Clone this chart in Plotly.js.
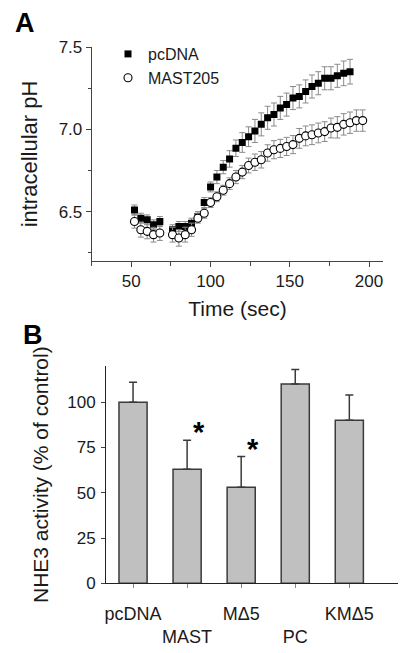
<!DOCTYPE html>
<html><head><meta charset="utf-8">
<script src="https://cdn.plot.ly/plotly-3.0.1.min.js"></script>
<style>html,body{margin:0;padding:0;background:#fff}#chart{width:400px;height:653px}</style>
</head><body><div id="chart"></div>
<script>
// Panel A data
const timePc = [52,56,60,64,68,76,80,84,88,92,96,100,104,108,112,116,120,124,128,132,136,140,144,148,152,156,160,164,168,172,176,180,184,188];
const phPc = [6.51,6.46,6.45,6.42,6.44,6.39,6.41,6.41,6.43,6.47,6.555,6.65,6.71,6.77,6.82,6.885,6.92,6.955,6.99,7.03,7.07,7.09,7.13,7.15,7.19,7.20,7.23,7.26,7.28,7.31,7.31,7.325,7.34,7.35];
const errPc = [0.03,0.03,0.03,0.03,0.03,0.03,0.03,0.03,0.03,0.03,0.03,0.03,0.04,0.04,0.05,0.05,0.06,0.06,0.07,0.07,0.07,0.07,0.07,0.07,0.07,0.07,0.07,0.07,0.07,0.07,0.07,0.07,0.075,0.075];
const timeMast = [52,56,60,64,68,76,80,84,88,92,96,100,104,108,112,116,120,124,128,132,136,140,144,148,152,156,160,164,168,172,176,180,184,188,192,196];
const phMast = [6.44,6.39,6.38,6.36,6.37,6.36,6.34,6.36,6.39,6.46,6.49,6.555,6.59,6.63,6.67,6.71,6.74,6.78,6.80,6.815,6.856,6.876,6.884,6.896,6.907,6.945,6.96,6.967,6.978,6.986,7.008,7.012,7.03,7.04,7.053,7.053];
const errMast = [0.04,0.045,0.045,0.045,0.045,0.045,0.05,0.045,0.04,0.03,0.03,0.03,0.03,0.03,0.035,0.04,0.04,0.045,0.05,0.05,0.05,0.055,0.055,0.055,0.055,0.06,0.06,0.06,0.06,0.06,0.06,0.065,0.065,0.065,0.065,0.065];
const seriesNames = ['pcDNA','MAST205'];
const xTicksA = [50,100,150,200];
const yTicksA = [6.5,7.0,7.5];

// Panel B data
const groups = ['pcDNA','MAST','M\u03945','PC','KM\u03945'];
const groupLabels = ['pcDNA','<br>MAST','M\u03945','<br>PC','KM\u03945'];
const activity = [100,63,53,110,90];
const activityErr = [11,16,17,8,14];
const significant = [false,true,true,false,false];
const yTicksB = [0,25,50,75,100];

const FONT = 'Liberation Sans, Arial, sans-serif';
const INK = '#1a1a1a';
const idx = groups.map((g,i)=>i);

const traces = [
  {x: timePc, y: phPc, name: seriesNames[0], type:'scatter', mode:'markers', xaxis:'x', yaxis:'y',
   marker:{symbol:'square', size:7, color:'#000'},
   error_y:{type:'data', array: errPc, color:'#8a8a8a', thickness:1, width:3}},
  {x: timeMast, y: phMast, name: seriesNames[1], type:'scatter', mode:'markers', xaxis:'x', yaxis:'y',
   marker:{symbol:'circle', size:8, color:'#fff', line:{color:'#000', width:1.1}},
   error_y:{type:'data', array: errMast, color:'#8a8a8a', thickness:1, width:3}},
  {x: idx, y: activity, type:'bar', xaxis:'x2', yaxis:'y2', showlegend:false, width:0.52,
   marker:{color:'#c0c0c0', line:{color:'#3a3a3a', width:1.5}},
   error_y:{type:'data', symmetric:false, array: activityErr, arrayminus: activity.map(()=>0), color:'#3a3a3a', thickness:1.5, width:4}}
];

const annotations = [
  {text:'<b>A</b>', xref:'paper', yref:'paper', x:25/400, y:1-23/653, xanchor:'center', yanchor:'middle', showarrow:false, font:{family:FONT, size:27, color:'#000'}},
  {text:'<b>B</b>', xref:'paper', yref:'paper', x:33/400, y:1-335/653, xanchor:'center', yanchor:'middle', showarrow:false, font:{family:FONT, size:27, color:'#000'}}
];
idx.forEach(i=>{
  if(significant[i]) annotations.push({text:'<b>*</b>', xref:'x2', yref:'y2', x:i, y:activity[i]+activityErr[i],
    xshift:4, yshift:-10, xanchor:'left', yanchor:'bottom', showarrow:false, font:{family:FONT, size:29, color:'#000'}});
});

const axA = {showline:true, linecolor:'#444', linewidth:1, ticks:'outside', ticklen:5, tickcolor:'#444', showgrid:false, zeroline:false,
  tickfont:{family:FONT, size:17, color:INK}};

const layout = {
  width:400, height:653, margin:{l:0,r:0,t:0,b:0}, paper_bgcolor:'#fff', plot_bgcolor:'#fff',
  font:{family:FONT, color:INK},
  showlegend:true,
  legend:{x:108/400, y:1-37/653, xanchor:'left', yanchor:'top', bgcolor:'rgba(0,0,0,0)', font:{family:FONT, size:16, color:INK}, tracegroupgap:0, itemwidth:30},
  xaxis: Object.assign({}, axA, {domain:[91.7/400, 383.3/400], anchor:'y', range:[25,209], tickvals:xTicksA,
    minor:{dtick:25, tick0:0, ticks:'outside', ticklen:4, tickcolor:'#444'},
    title:{text:'Time (sec)', font:{family:FONT, size:21, color:INK}, standoff:10}}),
  yaxis: Object.assign({}, axA, {domain:[1-261/653, 1-47/653], anchor:'x', range:[6.2,7.5], tickvals:yTicksA, tickformat:'.1f',
    minor:{dtick:0.25, tick0:0, ticks:'outside', ticklen:3, tickcolor:'#444'},
    title:{text:'intracellular pH', font:{family:FONT, size:22, color:INK}, standoff:14}}),
  xaxis2: {domain:[106/400, 398/400], anchor:'y2', range:[-0.5,4.9], tickvals: idx, ticktext: groupLabels, tickangle:0,
    showline:true, linecolor:'#222', linewidth:1, ticks:'outside', ticklen:4, tickcolor:'#888', showgrid:false, zeroline:false,
    ticklabelstandoff:10,
    tickfont:{family:FONT, size:18, color:INK}},
  yaxis2: {domain:[1-583.3/653, 1-366/653], anchor:'x2', range:[0,120], tickvals:yTicksB,
    showline:true, linecolor:'#222', linewidth:1, ticks:'outside', ticklen:4, tickcolor:'#444', showgrid:false, zeroline:false,
    ticklabelstandoff:2,
    tickfont:{family:FONT, size:17, color:INK},
    title:{text:'NHE3 activity (% of control)', font:{family:FONT, size:21, color:INK}, standoff:12}},
  annotations: annotations
};

Plotly.newPlot('chart', traces, layout, {staticPlot:true, displayModeBar:false});
</script></body></html>
